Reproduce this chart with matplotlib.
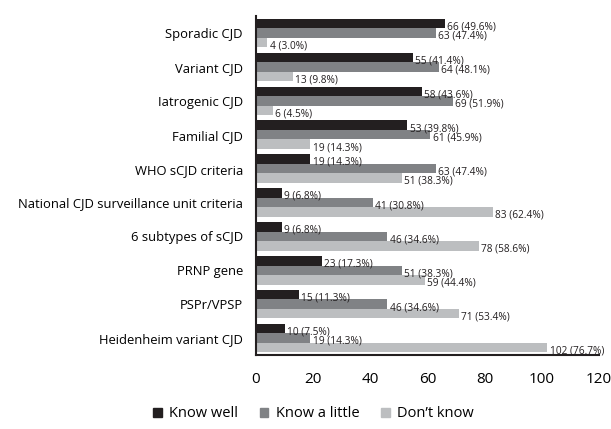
import numpy as np
import matplotlib.pyplot as plt
from matplotlib.patches import Patch

categories = ["Sporadic CJD", "Variant CJD", "Iatrogenic CJD", "Familial CJD",
              "WHO sCJD criteria", "National CJD surveillance unit criteria",
              "6 subtypes of sCJD", "PRNP gene", "PSPr/VPSP", "Heidenheim variant CJD"]
know_well = [66, 55, 58, 53, 19, 9, 9, 23, 15, 10]
know_well_pct = [49.6, 41.4, 43.6, 39.8, 14.3, 6.8, 6.8, 17.3, 11.3, 7.5]
know_little = [63, 64, 69, 61, 63, 41, 46, 51, 46, 19]
know_little_pct = [47.4, 48.1, 51.9, 45.9, 47.4, 30.8, 34.6, 38.3, 34.6, 14.3]
dont_know = [4, 13, 6, 19, 51, 83, 78, 59, 71, 102]
dont_know_pct = [3.0, 9.8, 4.5, 14.3, 38.3, 62.4, 58.6, 44.4, 53.4, 76.7]
series_names = ["Know well", "Know a little", "Don\u2019t know"]
colors = ["#231f20", "#808285", "#bcbec0"]

plt.rcParams['font.family'] = ['Open Sans', 'DejaVu Sans']

fig = plt.figure(figsize=(6.11, 4.29), dpi=100)
ax = fig.add_axes([0.419, 0.1725, 0.561, 0.79])

y = np.arange(len(categories))
h = 0.28
series = [(know_well, know_well_pct), (know_little, know_little_pct), (dont_know, dont_know_pct)]
for i, (vals, pcts) in enumerate(series):
    pos = y - h + i * h
    ax.barh(pos, vals, height=h, color=colors[i], label=series_names[i])
    for p, v, pc in zip(pos, vals, pcts):
        ax.text(v + 0.8, p + 0.1, f"{v} ({pc:.1f}%)", va="center", ha="left",
                fontsize=7.3, color="#231f20")

ax.set_xlim(0, 120)
ax.set_ylim(len(categories) - 0.5, -0.5)
ax.set_xticks(range(0, 121, 20))
ax.set_yticks(y)
ax.set_yticklabels(categories, fontsize=9.4)
ax.tick_params(axis="x", length=0, labelsize=11, pad=12)
ax.tick_params(axis="y", length=0, pad=9.5)
ax.spines["top"].set_visible(False)
ax.spines["right"].set_visible(False)
ax.spines["left"].set_color("#231f20")
ax.spines["bottom"].set_color("#231f20")
ax.spines["left"].set_linewidth(1.5)
ax.spines["bottom"].set_linewidth(1.5)

handles = [Patch(color=c) for c in colors]
fig.legend(handles, series_names, loc="center", bbox_to_anchor=(0.513, 0.035),
           ncol=3, frameon=False, fontsize=10.5, handlelength=0.6, handleheight=0.6,
           handletextpad=0.5, columnspacing=1.5)

fig.savefig("out.png", dpi=100)
